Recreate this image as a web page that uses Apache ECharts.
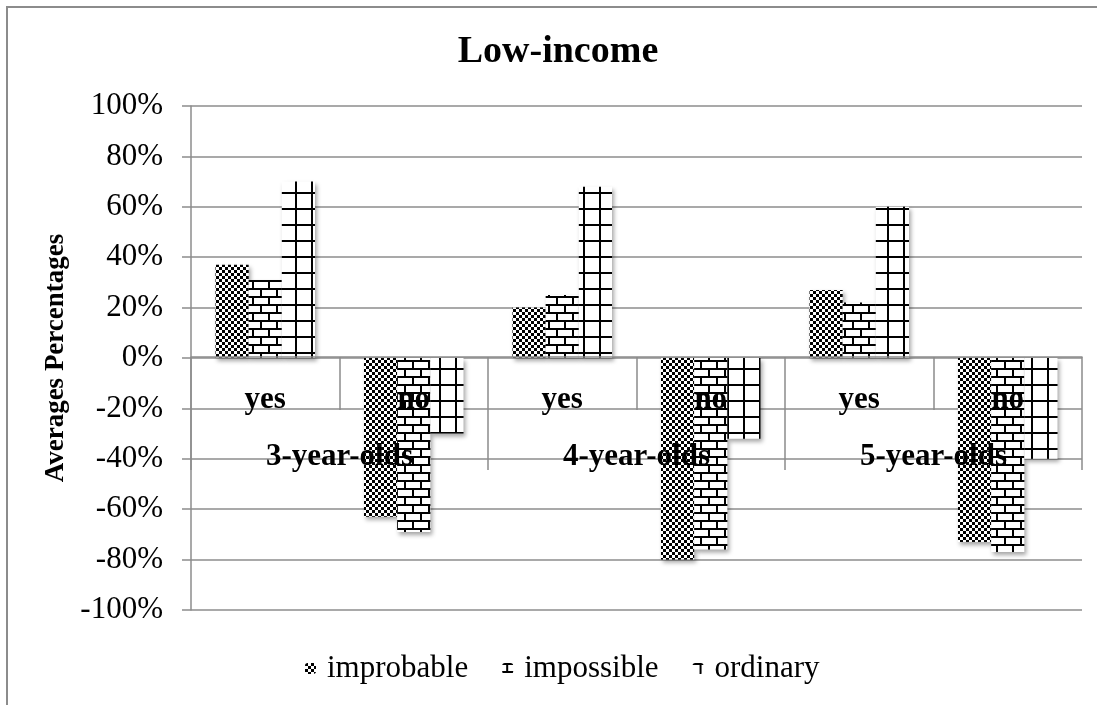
<!DOCTYPE html>
<html>
<head>
<meta charset="utf-8">
<script src="https://cdn.jsdelivr.net/npm/echarts@6/dist/echarts.min.js"></script>
<style>
  body { margin: 0; background: #fff; }
  #frame { position: absolute; left: 6px; top: 6px; width: 1200px; height: 800px; border: 2px solid #8c8c8c; }
  #chart { position: absolute; left: 0; top: 0; width: 1097px; height: 705px; }
</style>
</head>
<body>
<div id="frame"></div>
<div id="chart"></div>
<script>
// ages and answers
const groups = ['3-year-olds', '4-year-olds', '5-year-olds']
const answers = ['yes', 'no', 'yes', 'no', 'yes', 'no']
// percentages per answer column
const improbable = [37, -63, 20, -80, 27, -73]
const impossible = [31, -69, 25, -76, 22, -77]
const ordinary = [70, -30, 68, -32, 60, -40]
const yTicks = [-100, 100, 20]

const serif = "'Liberation Serif', 'Times New Roman', serif"
const gray = '#8c8c8c'

// fill patterns like the excel ones
function makePattern(kind) {
  const c = document.createElement('canvas')
  const ctx = c.getContext('2d')
  if (kind === 'checker') {
    c.width = 6; c.height = 6
    ctx.fillStyle = '#fff'
    ctx.fillRect(0, 0, 6, 6)
    ctx.fillStyle = '#000'
    ctx.fillRect(0, 0, 3, 3)
    ctx.fillRect(3, 3, 3, 3)
  } else if (kind === 'brick') {
    c.width = 16; c.height = 16
    ctx.fillStyle = '#fff'
    ctx.fillRect(0, 0, 16, 16)
    ctx.fillStyle = '#000'
    ctx.fillRect(0, 0, 16, 2)
    ctx.fillRect(0, 8, 16, 2)
    ctx.fillRect(4, 0, 2, 8)
    ctx.fillRect(12, 8, 2, 8)
  } else {
    c.width = 16; c.height = 16
    ctx.fillStyle = '#fff'
    ctx.fillRect(0, 0, 16, 16)
    ctx.fillStyle = '#000'
    ctx.fillRect(0, 0, 16, 2)
    ctx.fillRect(7, 0, 2, 16)
  }
  return { image: c, repeat: 'repeat' }
}

const barShadow = {
  shadowColor: 'rgba(0,0,0,0.35)',
  shadowBlur: 4,
  shadowOffsetX: 2,
  shadowOffsetY: 3
}

const myChart = echarts.init(document.getElementById('chart'))
const option = {
  animation: false,
  backgroundColor: 'transparent',
  title: {
    text: 'Low-income',
    left: 558,
    top: 33,
    textAlign: 'center',
    padding: 0,
    textStyle: { fontFamily: serif, fontSize: 38, fontWeight: 'bold', color: '#000' }
  },
  legend: {
    left: 300,
    top: 648,
    itemWidth: 11,
    itemHeight: 11,
    itemGap: 34,
    textStyle: { fontFamily: serif, fontSize: 31, color: '#000', padding: [0, 0, 0, 6] },
    data: ['improbable', 'impossible', 'ordinary']
  },
  // grid 0 holds the bars, grid 1 only carries the category axes down from the 0% line
  grid: [
    { left: 191, right: 15, top: 106, bottom: 95, containLabel: false, outerBoundsMode: 'none' },
    { left: 191, right: 15, top: 106, bottom: 348, containLabel: false, outerBoundsMode: 'none' }
  ],
  yAxis: [
    {
      type: 'value',
      gridIndex: 0,
      min: yTicks[0],
      max: yTicks[1],
      interval: yTicks[2],
      name: 'Averages Percentages',
      nameLocation: 'middle',
      nameGap: 118,
      nameTextStyle: { fontFamily: serif, fontSize: 27, fontWeight: 'bold', color: '#000' },
      axisLine: { show: true, lineStyle: { color: gray, width: 1.5 } },
      axisTick: { show: true, length: 9, lineStyle: { color: gray, width: 1.5 } },
      axisLabel: { formatter: '{value}%', margin: 28, fontFamily: serif, fontSize: 31, color: '#000' },
      splitLine: { lineStyle: { color: gray, width: 1.5 } }
    },
    { type: 'value', gridIndex: 1, show: false }
  ],
  xAxis: [
    { type: 'category', gridIndex: 0, data: answers, show: false },
    {
      type: 'category',
      gridIndex: 1,
      data: answers,
      position: 'bottom',
      z: 10,
      axisLine: { show: true, onZero: false, lineStyle: { color: gray, width: 1.5 } },
      axisTick: { show: true, interval: 0, length: 53, lineStyle: { color: gray, width: 1.5 } },
      axisLabel: { interval: 0, margin: 27, fontFamily: serif, fontSize: 31, fontWeight: 'bold', color: '#000' }
    },
    {
      type: 'category',
      gridIndex: 1,
      data: groups,
      position: 'bottom',
      z: 10,
      axisLine: { show: false, onZero: false },
      axisTick: { show: true, interval: 0, length: 113, lineStyle: { color: gray, width: 1.5 } },
      axisLabel: { interval: 0, margin: 84, fontFamily: serif, fontSize: 31, fontWeight: 'bold', color: '#000' }
    }
  ],
  series: [
    {
      name: 'improbable',
      type: 'bar',
      xAxisIndex: 0,
      yAxisIndex: 0,
      barGap: '0%',
      barCategoryGap: '33%',
      itemStyle: Object.assign({ color: makePattern('checker') }, barShadow),
      data: improbable
    },
    {
      name: 'impossible',
      type: 'bar',
      xAxisIndex: 0,
      yAxisIndex: 0,
      itemStyle: Object.assign({ color: makePattern('brick') }, barShadow),
      data: impossible
    },
    {
      name: 'ordinary',
      type: 'bar',
      xAxisIndex: 0,
      yAxisIndex: 0,
      itemStyle: Object.assign({ color: makePattern('grid') }, barShadow),
      data: ordinary
    }
  ]
}
myChart.setOption(option)
</script>
</body>
</html>
